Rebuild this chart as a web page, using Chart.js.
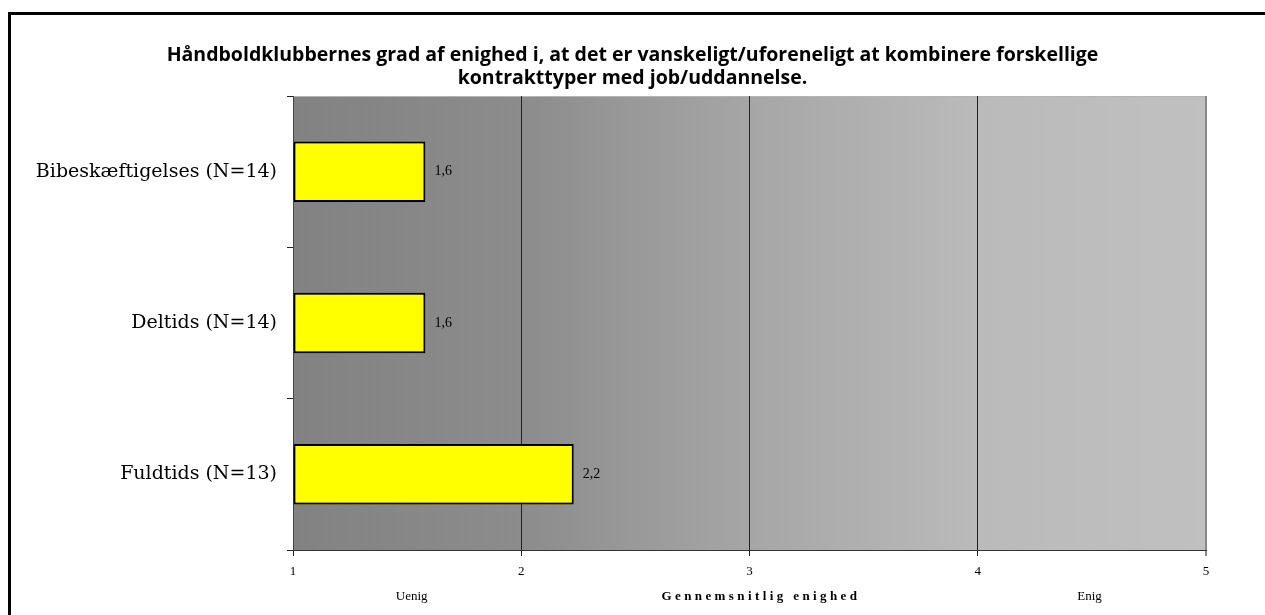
<!DOCTYPE html>
<html>
<head>
<meta charset="utf-8">
<script src="https://cdn.jsdelivr.net/npm/chart.js@4"></script>
<style>
  html, body { margin: 0; padding: 0; background: #fff; }
  #wrap { position: relative; width: 1265px; height: 615px; overflow: hidden; }
  #frame { position: absolute; left: 8px; top: 12px; width: 1400px; height: 800px; border: 3px solid #000; pointer-events: none; }
</style>
</head>
<body>
<div id="wrap">
  <canvas id="chart" width="1265" height="615"></canvas>
  <div id="frame"></div>
</div>
<script>
const titleLines = [
  "Håndboldklubbernes grad af enighed i, at det er vanskeligt/uforeneligt at kombinere forskellige",
  "kontrakttyper med job/uddannelse."
];
const categories = ["Bibeskæftigelses (N=14)", "Deltids (N=14)", "Fuldtids (N=13)"];
const meanAgreement = [1.58, 1.58, 2.23];
const scaleMin = 1;
const scaleMax = 5;
const axisNotes = [
  { value: 1.52, text: "Uenig", bold: false },
  { value: 3.05, text: "Gennemsnitlig enighed", bold: true },
  { value: 4.49, text: "Enig", bold: false }
];

const serif = "'Liberation Serif', 'Times New Roman', serif";

// gradient background + top border of plot area
const plotBackground = {
  id: "plotBackground",
  beforeDraw(chart) {
    const { ctx, chartArea: a } = chart;
    const g = ctx.createLinearGradient(a.left, 0, a.right, 0);
    g.addColorStop(0, "#828282");
    g.addColorStop(0.25, "#8c8c8c");
    g.addColorStop(0.5, "#a6a6a6");
    g.addColorStop(0.75, "#bababa");
    g.addColorStop(1, "#c0c0c0");
    ctx.save();
    ctx.fillStyle = g;
    ctx.fillRect(a.left, a.top, a.right - a.left, a.bottom - a.top);
    ctx.strokeStyle = "#b4b4b4";
    ctx.lineWidth = 1;
    ctx.beginPath();
    ctx.moveTo(a.left, a.top + 0.5);
    ctx.lineTo(a.right, a.top + 0.5);
    ctx.stroke();
    ctx.restore();
  }
};

// value labels next to bars, plus the notes under the x axis
const labels = {
  id: "labels",
  afterDraw(chart) {
    const { ctx } = chart;
    const meta = chart.getDatasetMeta(0);
    ctx.save();
    ctx.fillStyle = "#000";
    ctx.font = "14px " + serif;
    ctx.textAlign = "left";
    ctx.textBaseline = "middle";
    meta.data.forEach((bar, i) => {
      const txt = meanAgreement[i].toFixed(1).replace(".", ",");
      ctx.fillText(txt, bar.x + 9, bar.y);
    });
    const xs = chart.scales.x;
    ctx.textAlign = "center";
    axisNotes.forEach(n => {
      ctx.font = (n.bold ? "bold " : "") + "13px " + serif;
      ctx.letterSpacing = n.bold ? "3.4px" : "0px";
      ctx.fillText(n.text, xs.getPixelForValue(n.value), xs.top + 47);
    });
    ctx.restore();
  }
};

new Chart(document.getElementById("chart"), {
  type: "bar",
  data: {
    labels: categories,
    datasets: [{
      data: meanAgreement,
      base: scaleMin,
      backgroundColor: "#ffff00",
      borderColor: "#000",
      borderWidth: 2,
      borderSkipped: false,
      categoryPercentage: 1,
      barPercentage: 0.4
    }]
  },
  options: {
    indexAxis: "y",
    responsive: false,
    animation: false,
    layout: { padding: 0 },
    plugins: {
      legend: { display: false },
      tooltip: { enabled: false },
      title: {
        display: true,
        text: titleLines,
        color: "#000",
        font: { family: "'Open Sans'", size: 19.5, weight: "bold", lineHeight: 1.18 },
        padding: { top: 44, bottom: 6 }
      }
    },
    scales: {
      x: {
        type: "linear",
        min: scaleMin,
        max: scaleMax,
        ticks: { stepSize: 1, color: "#000", font: { family: serif, size: 13 }, padding: 8 },
        grid: {
          color: ctx => (ctx.tick && ctx.tick.value === scaleMax) ? "#888" : "#222",
          lineWidth: ctx => (ctx.tick && ctx.tick.value === scaleMax) ? 2 : 1,
          tickLength: 6
        },
        border: { color: "#333", width: 1 },
        afterFit: s => { s.height = 65; }
      },
      y: {
        ticks: { color: "#000", font: { family: "DejaVu Serif", size: 19 }, padding: 10 },
        grid: { offset: true, drawOnChartArea: false, tickLength: 6, color: "#222" },
        border: { color: "#444", width: 1 },
        afterFit: s => { s.width = 293; }
      },
      // empty spacer on the right so the title stays centred on the page
      yRight: {
        axis: "y",
        type: "linear",
        position: "right",
        ticks: { display: false },
        grid: { display: false },
        border: { display: false },
        afterFit: s => { s.width = 59; }
      }
    }
  },
  plugins: [plotBackground, labels]
});
</script>
</body>
</html>
